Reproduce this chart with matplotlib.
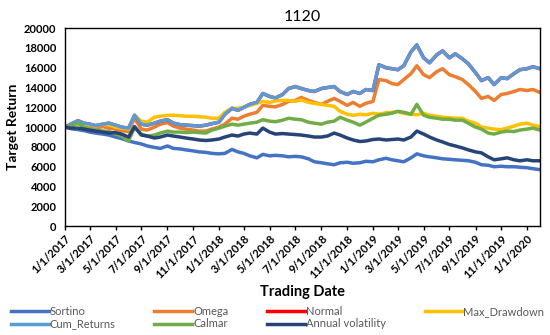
import matplotlib
matplotlib.use("Agg")
import matplotlib.pyplot as plt
import pandas as pd

plt.rcParams["font.family"] = ["Lato", "DejaVu Sans"]

# half-month sampling, 1st and 15th of each month
dates = pd.date_range("2017-01-01", "2020-02-01", freq="SMS")

sortino = [10000, 9850, 9750, 9650, 9500, 9400, 9300, 9200, 9000, 8850,
           8600, 8450, 8300, 8100, 7950, 7850, 8100, 7850, 7800, 7700,
           7600, 7500, 7450, 7350, 7300, 7350, 7750, 7500, 7350, 7100,
           6900, 7250, 7100, 7150, 7100, 7000, 7050, 7000, 6800, 6500,
           6400, 6300, 6200, 6400, 6450, 6350, 6400, 6550, 6500, 6700,
           6850, 6700, 6600, 6500, 6900, 7300, 7100, 7000, 6900, 6800,
           6750, 6700, 6650, 6600, 6450, 6200, 6150, 6000, 6050, 6000,
           6000, 5950, 5900, 5800, 5700]
omega = [10000, 10200, 10400, 10200, 10100, 9900, 10050, 9900, 9800, 9650,
         9550, 10900, 9800, 9700, 10000, 10300, 10450, 10100, 9900, 9800,
         9700, 9600, 9600, 9800, 10000, 10300, 10900, 10800, 11100, 11300,
         11500, 12200, 12100, 12050, 12300, 12600, 12700, 13000, 12700, 12500,
         12300, 12600, 12900, 12600, 12200, 12500, 12100, 12400, 12600, 14800,
         14700, 14400, 14300, 14800, 15400, 16200, 15300, 15000, 15600, 15900,
         15300, 15100, 14800, 14300, 13600, 12900, 13100, 12700, 13300, 13400,
         13600, 13800, 13700, 13800, 13500]
max_drawdown = [10000, 10200, 10350, 10200, 10250, 10100, 10300, 10200, 10000, 9900,
                9800, 11200, 10600, 10500, 11000, 11100, 11200, 11200, 11150, 11100,
                11100, 11050, 11000, 10900, 10900, 11500, 11900, 11900, 12000, 12200,
                12400, 12600, 12500, 12650, 12700, 12700, 12600, 12750, 12500, 12400,
                12300, 12200, 12100, 11600, 11300, 11200, 11300, 11250, 11400, 11300,
                11450, 11500, 11550, 11400, 11300, 11250, 11400, 11200, 11100, 11000,
                10950, 10900, 10900, 10600, 10400, 10000, 9900, 9800, 9750, 9900,
                10100, 10300, 10400, 10200, 10050]
cum_returns = [10000, 10300, 10650, 10400, 10300, 10150, 10300, 10400, 10200, 10000,
               9900, 11200, 10300, 10200, 10400, 10600, 10750, 10400, 10250, 10200,
               10150, 10100, 10200, 10350, 10500, 11300, 11900, 11700, 12000, 12300,
               12500, 13400, 13100, 12950, 13300, 13900, 14100, 13900, 13700, 13600,
               13900, 14000, 14100, 13600, 13300, 13600, 13400, 13800, 13700, 16300,
               16000, 15900, 15800, 16200, 17600, 18300, 17000, 16500, 17300, 17700,
               17000, 17400, 16900, 16400, 15500, 14700, 15000, 14300, 15000, 14900,
               15400, 15800, 15900, 16100, 15900]
# Normal is fully hidden under Cum_Returns in the original
normal = list(cum_returns)
calmar = [10000, 10100, 10400, 10000, 9800, 9700, 9600, 9550, 9300, 9100,
          8600, 10000, 9300, 9100, 9200, 9400, 9600, 9500, 9500, 9450,
          9500, 9450, 9400, 9700, 9900, 10100, 10300, 10200, 10300, 10400,
          10500, 10750, 10600, 10550, 10700, 10900, 10800, 10750, 10500, 10400,
          10300, 10500, 10600, 11000, 10700, 10500, 10200, 10500, 10900, 11200,
          11300, 11400, 11600, 11500, 11300, 12300, 11200, 11000, 10900, 10800,
          10800, 10700, 10700, 10400, 10000, 9800, 9400, 9300, 9500, 9600,
          9550, 9700, 9800, 9900, 9700]
annual_vol = [10000, 9900, 9900, 9800, 9700, 9600, 9500, 9400, 9450, 9300,
              9000, 10050, 9200, 9100, 8900, 9000, 9200, 9100, 9000, 8900,
              8800, 8700, 8650, 8700, 8800, 9000, 9200, 9100, 9300, 9400,
              9300, 9900, 9500, 9300, 9350, 9300, 9250, 9200, 9100, 9000,
              9000, 9100, 9400, 9200, 8900, 8700, 8550, 8600, 8750, 8800,
              8700, 8750, 8800, 8700, 9000, 9600, 9300, 9000, 8700, 8500,
              8250, 8100, 7900, 7700, 7500, 7400, 7000, 6700, 6800, 6900,
              6700, 6600, 6700, 6600, 6600]

series = [
    ("Sortino", sortino, "#4472C4"),
    ("Omega", omega, "#ED7D31"),
    ("Normal", normal, "#FF0000"),
    ("Max_Drawdown", max_drawdown, "#FFC000"),
    ("Cum_Returns", cum_returns, "#5B9BD5"),
    ("Calmar", calmar, "#70AD47"),
    ("Annual volatility", annual_vol, "#264478"),
]

tick_dates = pd.date_range("2017-01-01", "2020-01-01", freq="2MS")
tick_labels = [f"{d.month}/{d.day}/{d.year}" for d in tick_dates]

fig = plt.figure(figsize=(5.5, 3.35), dpi=100)
ax = fig.add_axes([0.118, 0.325, 0.864, 0.591])

handles = {}
for name, vals, color in series:
    (ln,) = ax.plot(dates, vals, color=color, lw=2.5, label=name)
    handles[name] = ln

ax.set_xlim(dates[0], dates[-1])
ax.set_ylim(0, 20000)
ax.set_yticks(range(0, 20001, 2000))
ax.set_xticks(tick_dates)
ax.set_xticklabels(tick_labels, rotation=45, ha="right", rotation_mode="anchor")
for lab in ax.get_xticklabels() + ax.get_yticklabels():
    lab.set_fontweight("bold")
    lab.set_fontsize(8)
ax.tick_params(axis="y", length=0, pad=6)
ax.tick_params(axis="x", length=3, width=1, direction="out", pad=2)
for sp in ax.spines.values():
    sp.set_color("black")
    sp.set_linewidth(1)

ax.set_title("1120", fontsize=11.5, pad=5)
ax.set_ylabel("Target Return", fontsize=10, fontweight="bold", labelpad=4)
fig.text(0.55, 0.115, "Trading Date", fontsize=10.5, fontweight="bold", ha="center")

# matplotlib fills legend columns first
order = ["Sortino", "Cum_Returns", "Omega", "Calmar", "Normal",
         "Annual volatility", "Max_Drawdown"]
leg = fig.legend([handles[n] for n in order], order, ncol=4,
                 loc="lower left", bbox_to_anchor=(0.01, 0.0, 0.99, 0.1),
                 mode="expand", frameon=False, fontsize=8,
                 handlelength=3.4, handletextpad=0.1, labelspacing=0.15,
                 borderaxespad=0.1)
for t in leg.get_texts():
    t.set_color("#595959")

fig.savefig("out.png", dpi=100)
